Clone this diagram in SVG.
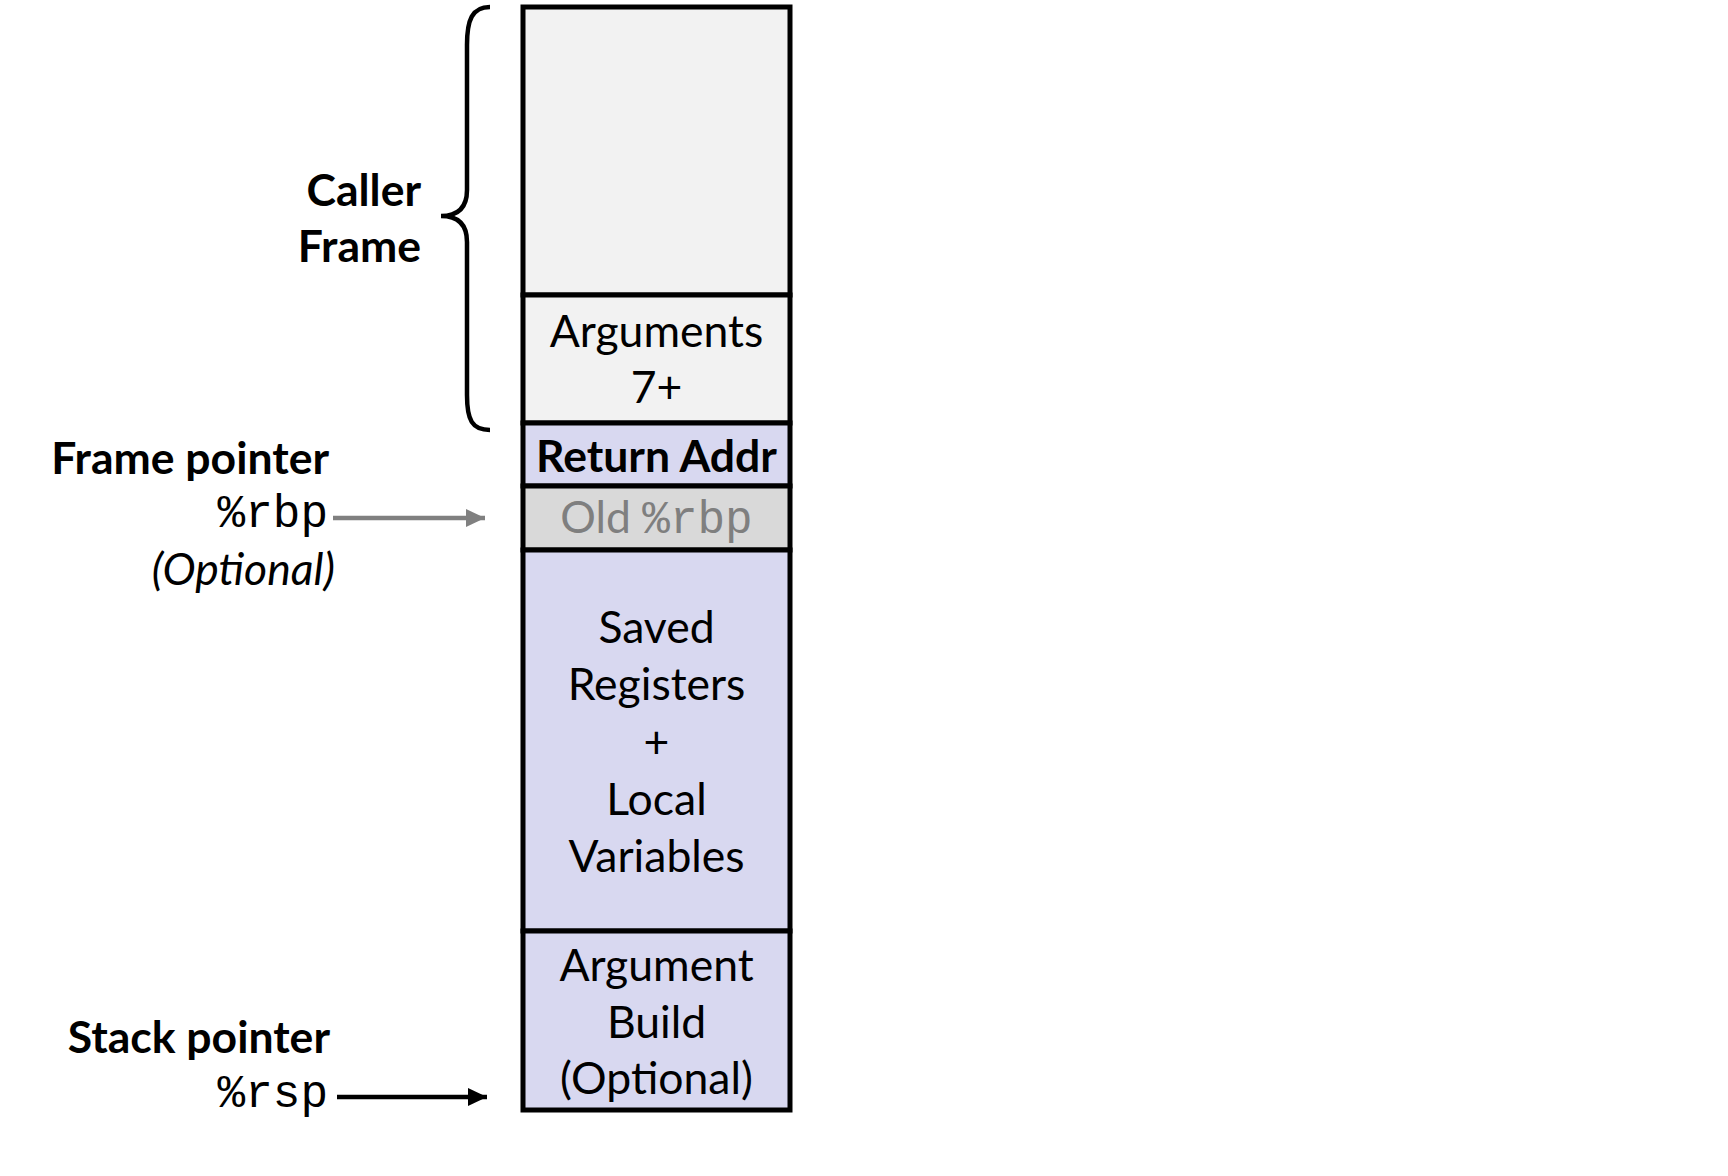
<svg xmlns="http://www.w3.org/2000/svg" width="1728" height="1176" viewBox="0 0 1728 1176">
<style>
.blk{stroke:#000;stroke-width:5}
.t{font-family:Lato,"Open Sans","Liberation Sans",sans-serif;font-size:44.5px;fill:#000;text-anchor:middle}
.b{font-family:Lato,"Open Sans","Liberation Sans",sans-serif;font-size:44.5px;font-weight:bold;fill:#000}
.m{font-family:"Liberation Mono","Courier New",monospace;font-size:46px}
.r{text-anchor:end}
</style>
<defs>
<marker id="ahg" markerUnits="userSpaceOnUse" markerWidth="22" markerHeight="20" refX="19" refY="9" orient="auto"><path d="M0,0 L19,9 L0,18 Z" fill="#808080"/></marker>
<marker id="ahk" markerUnits="userSpaceOnUse" markerWidth="22" markerHeight="20" refX="19" refY="9" orient="auto"><path d="M0,0 L19,9 L0,18 Z" fill="#000"/></marker>
</defs>
<rect width="1728" height="1176" fill="#fff"/>
<g id="caller-frame"><rect class="blk" x="523" y="7" width="267" height="288" fill="#f2f2f2"/></g>
<g id="arguments"><rect class="blk" x="523" y="295" width="267" height="128" fill="#f2f2f2"/>
<text class="t" x="656.5" y="347">Arguments</text><text class="t" x="656.5" y="403">7+</text></g>
<g id="return-addr"><rect class="blk" x="523" y="423" width="267" height="63" fill="#d8d8f0"/>
<text class="t" x="656.5" y="472" font-weight="bold">Return Addr</text></g>
<g id="old-rbp"><rect class="blk" x="523" y="486" width="267" height="64" fill="#d9d9d9"/>
<text class="t" x="656.5" y="533" style="fill:#7f7f7f">Old <tspan class="m">%rbp</tspan></text></g>
<g id="saved-registers"><rect class="blk" x="523" y="550" width="267" height="381" fill="#d8d8f0"/>
<text class="t" x="656.5" y="643">Saved</text><text class="t" x="656.5" y="700">Registers</text><text class="t" x="656.5" y="758">+</text><text class="t" x="656.5" y="815">Local</text><text class="t" x="656.5" y="872">Variables</text></g>
<g id="argument-build"><rect class="blk" x="523" y="931" width="267" height="179" fill="#d8d8f0"/>
<text class="t" x="656.5" y="981">Argument</text><text class="t" x="656.5" y="1038">Build</text><text class="t" x="656.5" y="1094">(Optional)</text></g>
<g id="caller-label">
<path d="M490,7 C472,7 467,20 467,45 L467,190 C467,208 458,216 441,216 C458,216 467,224 467,242 L467,395 C467,420 472,430 490,430" fill="none" stroke="#000" stroke-width="4.5"/>
<text class="b r" x="421" y="206">Caller</text><text class="b r" x="421" y="262">Frame</text></g>
<g id="frame-pointer">
<text class="b r" x="329" y="474">Frame pointer</text>
<text class="m r" x="328" y="527" fill="#000">%rbp</text>
<text class="t r" x="335" y="585" font-style="italic" style="text-anchor:end">(Optional)</text></g>
<g id="stack-pointer">
<text class="b r" x="330" y="1053">Stack pointer</text>
<text class="m r" x="328" y="1107" fill="#000">%rsp</text></g>
<g id="connectors">
<line x1="333" y1="518" x2="485" y2="518" stroke="#808080" stroke-width="4.5" marker-end="url(#ahg)"/>
<line x1="337" y1="1097" x2="487" y2="1097" stroke="#000" stroke-width="4.5" marker-end="url(#ahk)"/>
</g>
</svg>
